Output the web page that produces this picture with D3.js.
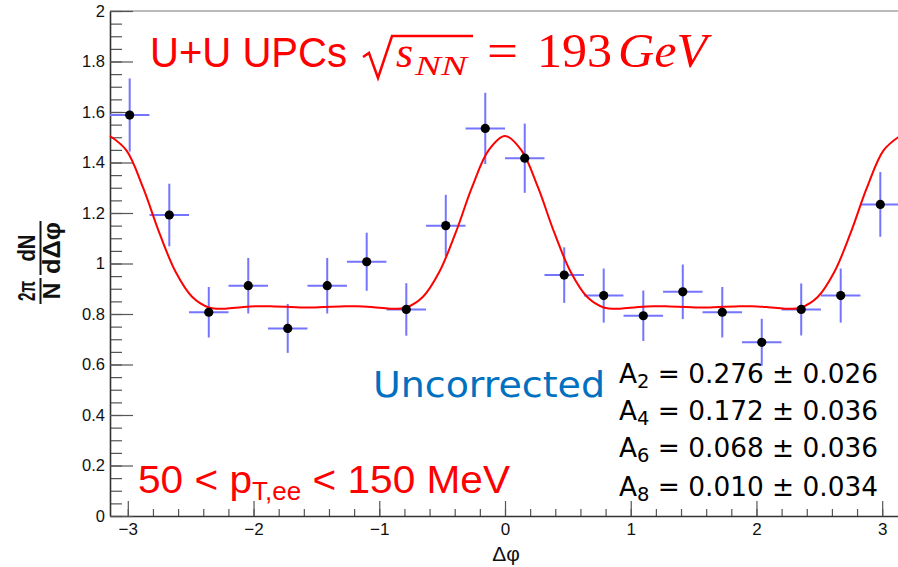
<!DOCTYPE html>
<html><head><meta charset="utf-8">
<script src="https://cdn.jsdelivr.net/npm/d3@7"></script>
<style>body{margin:0;background:#fff}</style>
</head><body>
<svg id="chart" width="898" height="567"></svg>
<script>
// ---- data ----
const binCenters = [-2.985,-2.670,-2.356,-2.042,-1.728,-1.414,-1.100,-0.785,-0.471,-0.157,
                     0.157, 0.471, 0.785, 1.100, 1.414, 1.728, 2.042, 2.356, 2.670, 2.985];
const binHalfWidth = 0.157;
const values = [1.588,1.192,0.807,0.912,0.743,0.912,1.007,0.818,1.150,1.535,
                1.417,0.954,0.873,0.793,0.888,0.807,0.688,0.818,0.873,1.234];
const errors = [0.145,0.124,0.100,0.110,0.097,0.110,0.115,0.104,0.122,0.141,
                0.137,0.110,0.107,0.100,0.108,0.100,0.093,0.103,0.107,0.128];
const fitPhi = [-3.142,-3.011,-2.880,-2.749,-2.618,-2.487,-2.356,-2.225,-2.094,-1.963,-1.833,-1.702,-1.571,
                -1.440,-1.309,-1.178,-1.047,-0.916,-0.785,-0.654,-0.524,-0.393,-0.262,-0.131,0,
                0.131,0.262,0.393,0.524,0.654,0.785,0.916,1.047,1.178,1.309,1.440,1.571,
                1.702,1.833,1.963,2.094,2.225,2.356,2.487,2.618,2.749,2.880,3.011,3.142];
const fitValues = [1.505,1.448,1.302,1.121,0.965,0.867,0.826,0.821,0.827,0.831,0.830,0.828,0.826,
                   0.828,0.830,0.831,0.827,0.821,0.826,0.867,0.965,1.121,1.302,1.448,1.505,
                   1.448,1.302,1.121,0.965,0.867,0.826,0.821,0.827,0.831,0.830,0.828,0.826,
                   0.828,0.830,0.831,0.827,0.821,0.826,0.867,0.965,1.121,1.302,1.448,1.505];
const xTickValues = [-3,-2,-1,0,1,2,3];
const xMinorTicks = [-3,-2.8,-2.6,-2.4,-2.2,-2,-1.8,-1.6,-1.4,-1.2,-1,-0.8,-0.6,-0.4,-0.2,0,
                     0.2,0.4,0.6,0.8,1,1.2,1.4,1.6,1.8,2,2.2,2.4,2.6,2.8,3];
const yTickValues = [0,0.2,0.4,0.6,0.8,1,1.2,1.4,1.6,1.8,2];
const coeffOrders = ["2","4","6","8"];
const coeffValues = ["0.276","0.172","0.068","0.010"];
const coeffErrors = ["0.026","0.036","0.036","0.034"];

// ---- chart ----
const svg = d3.select("#chart");
const x = d3.scaleLinear().domain([-Math.PI, Math.PI]).range([110, 900]);
const y = d3.scaleLinear().domain([0, 2]).range([516, 11]);
const axisFont = "'Liberation Sans', Arial, sans-serif";

// frame top
svg.append("line").attr("x1",110).attr("x2",898).attr("y1",11).attr("y2",11)
  .attr("stroke","#777").attr("stroke-width",1.2);

// x axis
const gx = svg.append("g").attr("transform","translate(0,516)");
gx.call(d3.axisBottom(x).tickValues(xMinorTicks).tickSize(-7).tickSizeOuter(0).tickFormat(""));
gx.call(g => g.select(".domain").remove());
const gx2 = svg.append("g").attr("transform","translate(0,516)");
gx2.call(d3.axisBottom(x).tickValues(xTickValues).tickSize(-15).tickSizeOuter(0).tickPadding(7)
  .tickFormat(d => d < 0 ? "\u2212" + Math.abs(d) : String(d)));
svg.selectAll("g .tick line").attr("stroke","#555").attr("stroke-width",1.2);
gx2.select(".domain").attr("stroke","#333").attr("stroke-width",1.6);
gx2.selectAll("text").attr("font-family",axisFont).attr("font-size",17).attr("fill","#111");

// y axis
const gy = svg.append("g").attr("transform","translate(110,0)");
gy.call(d3.axisLeft(y).ticks(40).tickSize(-12).tickSizeOuter(0).tickFormat(""));
gy.call(g => g.select(".domain").remove());
const gy2 = svg.append("g").attr("transform","translate(110,0)");
gy2.call(d3.axisLeft(y).tickValues(yTickValues).tickSize(-23).tickSizeOuter(0).tickPadding(5)
  .tickFormat(d => String(+d.toFixed(1))));
svg.selectAll("g .tick line").attr("stroke","#555").attr("stroke-width",1.2);
gy2.select(".domain").attr("stroke","#333").attr("stroke-width",1.6);
gy2.selectAll("text").attr("font-family",axisFont).attr("font-size",16.5).attr("fill","#111");

// x axis title
svg.append("text").attr("x",506).attr("y",561).attr("text-anchor","middle")
  .attr("font-family",axisFont).attr("font-size",21).attr("fill","#111").text("\u0394\u03c6");

// y axis title (fraction, rotated)
const yt = svg.append("g").attr("transform","rotate(-90)")
  .attr("font-family",axisFont).attr("font-weight","bold").attr("font-size",23).attr("fill","#111")
  .attr("text-anchor","middle");
yt.append("text").attr("x",-291).attr("y",35).attr("textLength",20).attr("lengthAdjust","spacingAndGlyphs").text("2\u03c0");
yt.append("text").attr("x",-291).attr("y",60).text("N");
yt.append("line").attr("x1",-304).attr("x2",-278).attr("y1",40.5).attr("y2",40.5).attr("stroke","#111").attr("stroke-width",2);
yt.append("text").attr("x",-248).attr("y",35).attr("textLength",27).attr("lengthAdjust","spacingAndGlyphs").text("dN");
yt.append("text").attr("x",-248).attr("y",60).attr("textLength",52).attr("lengthAdjust","spacingAndGlyphs").text("d\u0394\u03c6");
yt.append("line").attr("x1",-275).attr("x2",-221).attr("y1",40.5).attr("y2",40.5).attr("stroke","#111").attr("stroke-width",2);

// data
const pts = binCenters.map((c,i) => ({c, v: values[i], e: errors[i]}));
const eb = svg.append("g").attr("stroke","#7474ff").attr("stroke-width",2);
eb.selectAll("line.h").data(pts).join("line").attr("class","h")
  .attr("x1",d=>x(d.c-binHalfWidth)).attr("x2",d=>x(d.c+binHalfWidth))
  .attr("y1",d=>y(d.v)).attr("y2",d=>y(d.v));
eb.selectAll("line.v").data(pts).join("line").attr("class","v")
  .attr("x1",d=>x(d.c)).attr("x2",d=>x(d.c))
  .attr("y1",d=>y(d.v-d.e)).attr("y2",d=>y(d.v+d.e));

// fit
const fitData = fitPhi.map((p,i)=>[p, fitValues[i]]);
svg.append("path").datum(fitData)
  .attr("d", d3.line().x(d=>x(d[0])).y(d=>y(d[1])).curve(d3.curveCatmullRom.alpha(0.5)))
  .attr("fill","none").attr("stroke","#ff0000").attr("stroke-width",2);

svg.append("g").selectAll("circle").data(pts).join("circle")
  .attr("cx",d=>x(d.c)).attr("cy",d=>y(d.v)).attr("r",4.6).attr("fill","#000");

// title
const red = "#ff0000";
svg.append("text").attr("x",150).attr("y",67).attr("font-family",axisFont).attr("font-size",42)
  .attr("fill",red).attr("textLength",197).attr("lengthAdjust","spacingAndGlyphs").text("U+U UPCs");
svg.append("path").attr("d","M363,57 L369,53 L378,78 L392,36 L473,36")
  .attr("fill","none").attr("stroke",red).attr("stroke-width",2.5).attr("stroke-linejoin","miter");
const serif = "'Liberation Serif', 'DejaVu Serif', serif";
svg.append("text").attr("x",396).attr("y",67).attr("font-family",serif).attr("font-style","italic")
  .attr("font-size",44).attr("fill",red).text("s");
svg.append("text").attr("x",415).attr("y",75).attr("font-family",serif).attr("font-style","italic")
  .attr("font-size",27).attr("fill",red).attr("textLength",52).attr("lengthAdjust","spacingAndGlyphs").text("NN");
svg.append("text").attr("x",487).attr("y",67).attr("font-family",serif)
  .attr("font-size",48).attr("fill",red).attr("textLength",31).attr("lengthAdjust","spacingAndGlyphs").text("=");
svg.append("text").attr("x",537).attr("y",67).attr("font-family",serif)
  .attr("font-size",48).attr("fill",red).attr("textLength",75).attr("lengthAdjust","spacingAndGlyphs").text("193");
svg.append("text").attr("x",618).attr("y",67).attr("font-family",serif).attr("font-style","italic")
  .attr("font-size",48).attr("fill",red).attr("textLength",89).attr("lengthAdjust","spacingAndGlyphs").text("GeV");

// Uncorrected
svg.append("text").attr("x",373).attr("y",397).attr("font-family","'DejaVu Sans', sans-serif")
  .attr("font-size",35).attr("fill","#0070c0").attr("textLength",232).attr("lengthAdjust","spacingAndGlyphs")
  .text("Uncorrected");

// coefficients
const baselines = [383, 420, 457, 496];
coeffOrders.forEach((n,i) => {
  const t = svg.append("text").attr("x",619).attr("y",baselines[i])
    .attr("font-family","'DejaVu Sans', sans-serif").attr("font-size",27).attr("fill","#000")
    .attr("textLength",259).attr("lengthAdjust","spacingAndGlyphs");
  t.append("tspan").text("A");
  t.append("tspan").attr("font-size",20).attr("dy",5).text(n);
  t.append("tspan").attr("dy",-5).text(" = " + coeffValues[i] + " \u00b1 " + coeffErrors[i]);
});

// pT range
const pt = svg.append("text").attr("x",138).attr("y",493).attr("font-family",axisFont)
  .attr("font-size",39).attr("fill",red).attr("textLength",372).attr("lengthAdjust","spacingAndGlyphs");
pt.append("tspan").text("50 < p");
pt.append("tspan").attr("font-size",25).attr("dy",7).text("T,ee");
pt.append("tspan").attr("dy",-7).text(" < 150 MeV");
</script>
</body></html>
